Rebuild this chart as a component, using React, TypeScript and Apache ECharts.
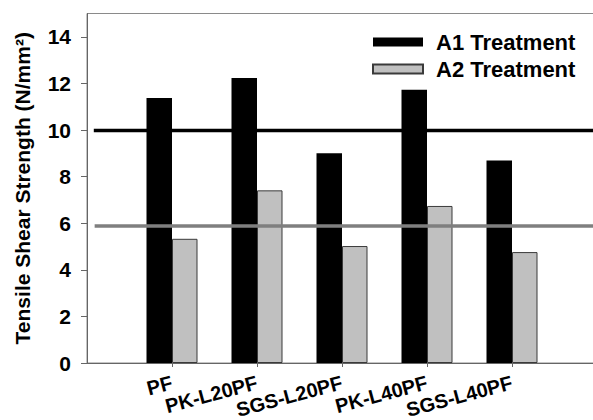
import React, { useEffect, useRef } from "react";
import * as echarts from "echarts";

const categories = ["PF", "PK-L20PF", "SGS-L20PF", "PK-L40PF", "SGS-L40PF"];
const a1Values = [11.37, 12.23, 9.0, 11.73, 8.69];
const a2Values = [5.33, 7.41, 5.02, 6.74, 4.76];
const a1Reference = 9.98;
const a2Reference = 5.88;
const yTicks = [0, 2, 4, 6, 8, 10, 12, 14];
const seriesNames = ["A1 Treatment", "A2 Treatment"];

const FONT = 'Arial, "Liberation Sans", sans-serif';

export default function App() {
  const ref = useRef<HTMLDivElement>(null);
  useEffect(() => {
    if (!ref.current) return;
    const chart = echarts.init(ref.current, null, { renderer: "svg" });
    const axisCats = ["", ...categories, ""];
    const pad = (arr: number[]) => [null, ...arr, null];
    chart.setOption({
      animation: false,
      backgroundColor: "#fff",
      textStyle: { fontFamily: FONT },
      grid: {
        left: 87,
        top: 13.5,
        right: -4,
        bottom: 57,
        outerBoundsMode: "none",
        containLabel: false,
        show: true,
        borderColor: "#8a8a8a",
        borderWidth: 1,
        backgroundColor: "transparent",
      },
      legend: {
        data: seriesNames,
        orient: "vertical",
        left: 367,
        top: 26,
        itemWidth: 50,
        itemHeight: 9,
        itemGap: 5,
        icon: "rect",
        textStyle: {
          fontFamily: FONT,
          fontSize: 22,
          fontWeight: "bold",
          color: "#000",
          padding: [0, 0, 0, 8],
        },
      },
      xAxis: [
        {
          type: "category",
          data: axisCats,
          boundaryGap: false,
          axisLine: { lineStyle: { color: "#666", width: 1 } },
          axisTick: {
            length: 4,
            interval: (i: number) => i > 0 && i < axisCats.length - 1,
            lineStyle: { color: "#666" },
          },
          axisLabel: {
            interval: 0,
            rotate: 15,
            margin: 19,
            fontFamily: FONT,
            fontSize: 20,
            fontWeight: "bold",
            color: "#000",
          },
          splitLine: { show: false },
        },
        {
          type: "value",
          min: 0,
          max: 6,
          show: false,
          position: "bottom",
        },
      ],
      yAxis: {
        type: "value",
        min: 0,
        max: 15,
        interval: 2,
        name: "Tensile Shear Strength (N/mm²)",
        nameLocation: "middle",
        nameGap: 54,
        nameTextStyle: {
          fontFamily: FONT,
          fontSize: 21,
          fontWeight: "bold",
          color: "#000",
        },
        axisLine: { show: true, lineStyle: { color: "#666", width: 1 } },
        axisTick: {
          show: true,
          length: 6,
          customValues: yTicks,
          lineStyle: { color: "#666" },
        },
        axisLabel: {
          customValues: yTicks,
          margin: 16,
          fontFamily: FONT,
          fontSize: 21,
          fontWeight: "bold",
          color: "#000",
        },
        splitLine: { show: false },
      },
      series: [
        {
          name: seriesNames[0],
          type: "bar",
          xAxisIndex: 0,
          data: pad(a1Values),
          barWidth: 25.5,
          barGap: "0%",
          itemStyle: { color: "#000", borderColor: "#000", borderWidth: 0 },
          z: 2,
        },
        {
          name: seriesNames[1],
          type: "bar",
          xAxisIndex: 0,
          data: pad(a2Values),
          barWidth: 25.5,
          barGap: "0%",
          itemStyle: { color: "#c0c0c0", borderColor: "#3a3a3a", borderWidth: 1 },
          z: 2,
        },
        {
          name: "A1 reference",
          type: "line",
          xAxisIndex: 1,
          data: [
            [0.08, a1Reference],
            [6, a1Reference],
          ],
          symbol: "none",
          lineStyle: { color: "#000", width: 3.5 },
          z: 5,
        },
        {
          name: "A2 reference",
          type: "line",
          xAxisIndex: 1,
          data: [
            [0.09, a2Reference],
            [6, a2Reference],
          ],
          symbol: "none",
          lineStyle: { color: "#7f7f7f", width: 3.5 },
          z: 5,
        },
      ],
    });
    return () => chart.dispose();
  }, []);
  return <div ref={ref} style={{ width: 593, height: 420, position: "fixed", left: 0, top: 0 }} />;
}
